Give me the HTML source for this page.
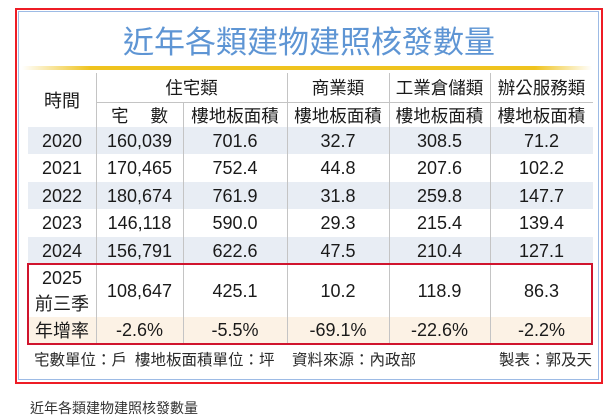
<!DOCTYPE html>
<html>
<head>
<meta charset="utf-8">
<style>
html,body{margin:0;padding:0;}
body{width:616px;height:404px;overflow:hidden;background:#fff;position:relative;
font-family:"Liberation Sans","Noto Sans CJK TC",sans-serif;color:#1a1a1a;}
.a{position:absolute;}
.c{position:absolute;display:flex;align-items:center;justify-content:center;white-space:nowrap;font-size:18px;line-height:1;}
.vl{position:absolute;width:1px;background:#c4c4c4;}
.sh{position:absolute;left:28px;width:565px;background:#e8edf4;}
.cjk{font-family:"Noto Sans CJK TC","Liberation Sans",sans-serif;font-size:17.5px;}
</style>
</head>
<body>
<!-- frames -->
<div class="a" style="left:15px;top:8px;width:584px;height:372px;border:2px solid #ee1c25;"></div>
<div class="a" style="left:18px;top:11px;width:579px;height:367px;border:1.5px solid #9dbbe5;"></div>

<!-- title -->
<div class="c cjk" style="left:18px;width:582px;top:21px;height:36px;font-size:31px;color:#5e95d4;">近年各類建物建照核發數量</div>

<!-- gold line -->
<div class="a" style="left:22px;top:66px;width:570px;height:4px;background:linear-gradient(to right,rgba(240,196,30,0) 0%,#efc31e 12%,#efc31e 90%,rgba(240,196,30,0) 100%);"></div>

<!-- shading -->
<div class="sh" style="top:127px;height:27px;"></div>
<div class="sh" style="top:182px;height:27px;"></div>
<div class="sh" style="top:237px;height:27px;"></div>
<div class="a" style="left:28px;width:565px;top:317px;height:27px;background:#fcf2e5;"></div>

<!-- grid lines -->
<div class="vl" style="left:96px;top:73px;height:271px;"></div>
<div class="vl" style="left:183px;top:102px;height:242px;"></div>
<div class="vl" style="left:287px;top:73px;height:271px;"></div>
<div class="vl" style="left:389px;top:73px;height:271px;"></div>
<div class="vl" style="left:490px;top:73px;height:271px;"></div>
<div class="a" style="left:96px;top:102px;width:497px;height:1px;background:#c4c4c4;"></div>

<!-- red box -->
<div class="a" style="left:27px;top:263px;width:562px;height:78px;border:2px solid #d0142d;"></div>

<!-- header -->
<div class="c cjk" style="left:28px;width:68px;top:73px;height:54px;font-size:18px;">時間</div>
<div class="c cjk" style="left:96px;width:191px;top:74px;height:28px;">住宅類</div>
<div class="c cjk" style="left:287px;width:102px;top:74px;height:28px;">商業類</div>
<div class="c cjk" style="left:389px;width:101px;top:74px;height:28px;">工業倉儲類</div>
<div class="c cjk" style="left:490px;width:103px;top:74px;height:28px;">辦公服務類</div>
<div class="c cjk" style="left:96px;width:87px;top:103px;height:25px;"><span>宅</span><span style="display:inline-block;width:22px;"></span><span>數</span></div>
<div class="c cjk" style="left:183px;width:104px;top:103px;height:25px;">樓地板面積</div>
<div class="c cjk" style="left:287px;width:102px;top:103px;height:25px;">樓地板面積</div>
<div class="c cjk" style="left:389px;width:101px;top:103px;height:25px;">樓地板面積</div>
<div class="c cjk" style="left:490px;width:103px;top:103px;height:25px;">樓地板面積</div>

<!-- rows -->
<div class="c" style="left:28px;width:68px;top:127px;height:28px;">2020</div>
<div class="c" style="left:96px;width:87px;top:127px;height:28px;">160,039</div>
<div class="c" style="left:183px;width:104px;top:127px;height:28px;">701.6</div>
<div class="c" style="left:287px;width:102px;top:127px;height:28px;">32.7</div>
<div class="c" style="left:389px;width:101px;top:127px;height:28px;">308.5</div>
<div class="c" style="left:490px;width:103px;top:127px;height:28px;">71.2</div>

<div class="c" style="left:28px;width:68px;top:154px;height:28px;">2021</div>
<div class="c" style="left:96px;width:87px;top:154px;height:28px;">170,465</div>
<div class="c" style="left:183px;width:104px;top:154px;height:28px;">752.4</div>
<div class="c" style="left:287px;width:102px;top:154px;height:28px;">44.8</div>
<div class="c" style="left:389px;width:101px;top:154px;height:28px;">207.6</div>
<div class="c" style="left:490px;width:103px;top:154px;height:28px;">102.2</div>

<div class="c" style="left:28px;width:68px;top:182px;height:28px;">2022</div>
<div class="c" style="left:96px;width:87px;top:182px;height:28px;">180,674</div>
<div class="c" style="left:183px;width:104px;top:182px;height:28px;">761.9</div>
<div class="c" style="left:287px;width:102px;top:182px;height:28px;">31.8</div>
<div class="c" style="left:389px;width:101px;top:182px;height:28px;">259.8</div>
<div class="c" style="left:490px;width:103px;top:182px;height:28px;">147.7</div>

<div class="c" style="left:28px;width:68px;top:209px;height:28px;">2023</div>
<div class="c" style="left:96px;width:87px;top:209px;height:28px;">146,118</div>
<div class="c" style="left:183px;width:104px;top:209px;height:28px;">590.0</div>
<div class="c" style="left:287px;width:102px;top:209px;height:28px;">29.3</div>
<div class="c" style="left:389px;width:101px;top:209px;height:28px;">215.4</div>
<div class="c" style="left:490px;width:103px;top:209px;height:28px;">139.4</div>

<div class="c" style="left:28px;width:68px;top:237px;height:27px;">2024</div>
<div class="c" style="left:96px;width:87px;top:237px;height:27px;">156,791</div>
<div class="c" style="left:183px;width:104px;top:237px;height:27px;">622.6</div>
<div class="c" style="left:287px;width:102px;top:237px;height:27px;">47.5</div>
<div class="c" style="left:389px;width:101px;top:237px;height:27px;">210.4</div>
<div class="c" style="left:490px;width:103px;top:237px;height:27px;">127.1</div>

<!-- 2025 -->
<div class="c" style="left:28px;width:68px;top:266px;height:24px;font-size:18px;">2025</div>
<div class="c cjk" style="left:28px;width:68px;top:291px;height:24px;font-size:18px;">前三季</div>
<div class="c" style="left:96px;width:87px;top:265px;height:52px;">108,647</div>
<div class="c" style="left:183px;width:104px;top:265px;height:52px;">425.1</div>
<div class="c" style="left:287px;width:102px;top:265px;height:52px;">10.2</div>
<div class="c" style="left:389px;width:101px;top:265px;height:52px;">118.9</div>
<div class="c" style="left:490px;width:103px;top:265px;height:52px;">86.3</div>

<div class="c cjk" style="left:28px;width:68px;top:317px;height:26px;font-size:18px;">年增率</div>
<div class="c" style="left:96px;width:87px;top:317px;height:26px;">-2.6%</div>
<div class="c" style="left:183px;width:104px;top:317px;height:26px;">-5.5%</div>
<div class="c" style="left:287px;width:102px;top:317px;height:26px;">-69.1%</div>
<div class="c" style="left:389px;width:101px;top:317px;height:26px;">-22.6%</div>
<div class="c" style="left:490px;width:103px;top:317px;height:26px;">-2.2%</div>

<!-- footer -->
<div class="a cjk" style="left:34px;top:349px;font-size:15.5px;line-height:20px;color:#2a2a2a;white-space:nowrap;">宅數單位：戶</div>
<div class="a cjk" style="left:135px;top:349px;font-size:15.5px;line-height:20px;color:#2a2a2a;white-space:nowrap;">樓地板面積單位：坪</div>
<div class="a cjk" style="left:292px;top:349px;font-size:15.5px;line-height:20px;color:#2a2a2a;white-space:nowrap;">資料來源：內政部</div>
<div class="a cjk" style="left:499px;top:349px;font-size:15.5px;line-height:20px;color:#2a2a2a;white-space:nowrap;">製表：郭及天</div>

<!-- caption (cut off) -->
<div class="a cjk" style="left:30px;top:400px;font-size:14px;line-height:16px;color:#333;white-space:nowrap;">近年各類建物建照核發數量</div>
</body>
</html>
